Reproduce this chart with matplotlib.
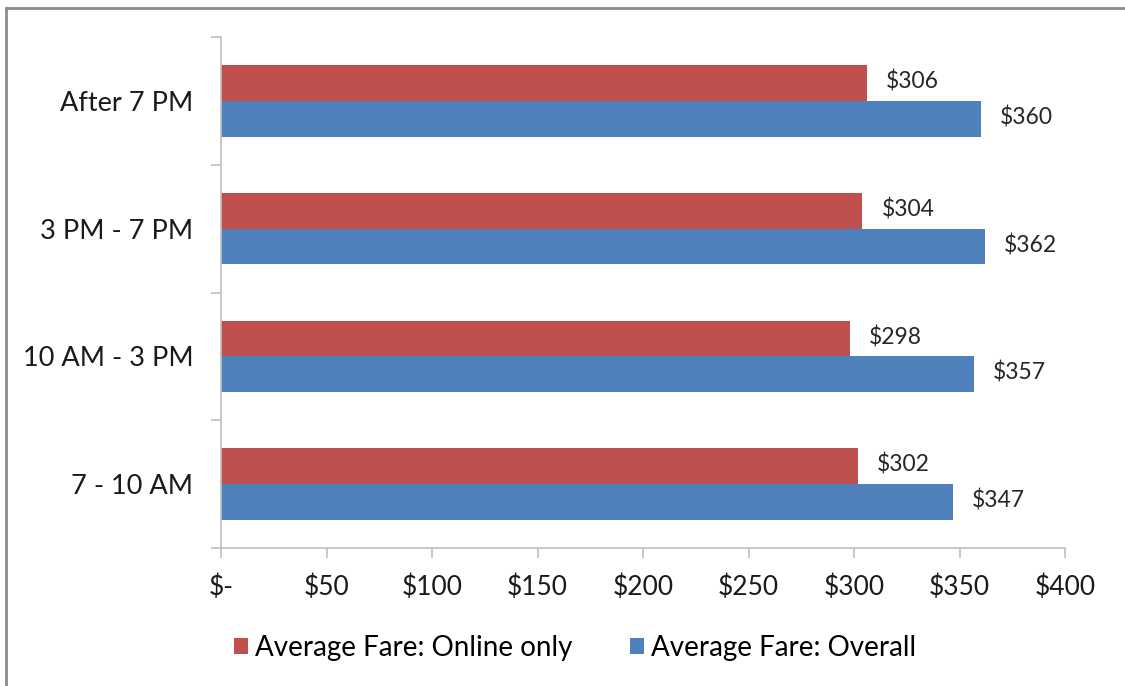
import matplotlib
matplotlib.use('Agg')
import matplotlib.pyplot as plt
import numpy as np
from matplotlib.lines import Line2D
from matplotlib.ticker import FuncFormatter

# time-of-day buckets, bottom to top
categories = ['7 - 10 AM', '10 AM - 3 PM', '3 PM - 7 PM', 'After 7 PM']
online_only = [302, 298, 304, 306]
overall = [347, 357, 362, 360]
series_names = ['Average Fare: Online only', 'Average Fare: Overall']
x_ticks = [0, 50, 100, 150, 200, 250, 300, 350, 400]

RED = '#C0504D'
BLUE = '#4F81BD'
GRID = '#BFBFBF'

plt.rcParams['font.family'] = ['Lato', 'DejaVu Sans']

W, H = 1125, 686
fig = plt.figure(figsize=(W / 100, H / 100), dpi=100)
ax = fig.add_axes([221 / W, 1 - 548 / H, (1065 - 221) / W, (548 - 37) / H])

y = np.arange(len(categories))
bh = 0.28
b1 = ax.barh(y + bh / 2, online_only, height=bh, color=RED, label=series_names[0])
b2 = ax.barh(y - bh / 2, overall, height=bh, color=BLUE, label=series_names[1])

for bars, vals in [(b1, online_only), (b2, overall)]:
    for rect, v in zip(bars, vals):
        ax.text(v + 9, rect.get_y() + rect.get_height() / 2 + 0.01, '${}'.format(v),
                va='center', ha='left', fontsize=16.5, color='#262626')

ax.set_xlim(0, 400)
ax.set_ylim(-0.5, len(categories) - 0.5)
ax.set_xticks(x_ticks)
ax.xaxis.set_major_formatter(FuncFormatter(lambda v, p: '$-' if v == 0 else '${:.0f}'.format(v)))
ax.set_yticks(np.arange(len(categories) + 1) - 0.5)
ax.set_yticklabels([])
ax.set_yticks(y, minor=True)
ax.set_yticklabels(categories, minor=True)
ax.tick_params(axis='y', which='minor', length=0, pad=20, labelsize=19.5, labelcolor='#1a1a1a')
ax.tick_params(axis='y', which='major', length=7, color=GRID, width=1.2)
ax.tick_params(axis='x', length=7, color=GRID, width=1.2, pad=12, labelsize=19, labelcolor='#1a1a1a')

for s in ['top', 'right']:
    ax.spines[s].set_visible(False)
for s in ['left', 'bottom']:
    ax.spines[s].set_color(GRID)
    ax.spines[s].set_linewidth(1.2)

fig.legend(handles=[b1, b2], loc='center', bbox_to_anchor=(575 / W, 1 - 648 / H),
           ncol=2, frameon=False, fontsize=20, handlelength=0.5, handleheight=0.5,
           handletextpad=0.25, columnspacing=2.1)

# partial outer frame (left and top only)
fig.add_artist(Line2D([6 / W, 6 / W], [0, 1 - 8 / H], transform=fig.transFigure,
                      color='#8c8c8c', lw=2))
fig.add_artist(Line2D([6 / W, 1], [1 - 8 / H, 1 - 8 / H], transform=fig.transFigure,
                      color='#8c8c8c', lw=2))

fig.savefig('out.png', dpi=100)
